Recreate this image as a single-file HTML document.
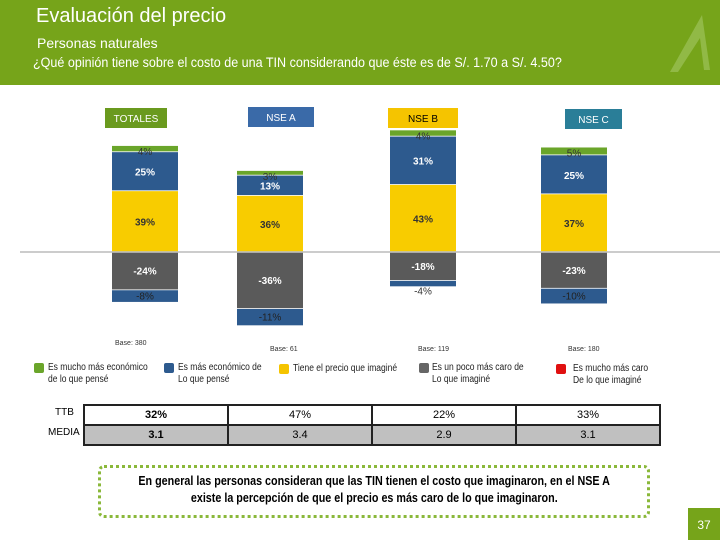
<!DOCTYPE html>
<html><head><meta charset="utf-8"><style>
body{margin:0;width:720px;height:540px;overflow:hidden;background:#fff;font-family:"Liberation Sans",sans-serif;position:relative}
.a{position:absolute}
.hdr{left:0;top:0;width:720px;height:85px;background:#76a41a}
.t{color:#fff}
.lab{font-size:10px;color:#222;transform:scaleX(.85);transform-origin:left}
.ls{width:10px;height:10px;border-radius:2px}
table{border-collapse:collapse}
td{border:2px solid #222;text-align:center;font-size:11px;height:18px;padding:0}
.base{font-size:7px;color:#333}
</style></head><body>
<div class="a hdr"></div>
<div class="a t" style="left:36px;top:5px;font-size:20px">Evaluación del precio</div>
<div class="a t" style="left:37px;top:35px;font-size:14px">Personas naturales</div>
<div class="a t" style="left:33px;top:55px;font-size:13.5px;transform:scaleX(.93);transform-origin:left;white-space:nowrap">¿Qué opinión tiene sobre el costo de una TIN considerando que éste es de S/. 1.70 a S/. 4.50?</div>
<svg class="a" style="left:660px;top:10px" width="60" height="70"><path d="M10 62 L42 5 L50 60 L44 60 L40 28 L18 62Z" fill="#9cc25a" opacity=".7"/></svg>

<svg class="a" id="chart" style="left:0;top:90px" width="720" height="250"></svg>

<div class="a base" style="left:115px;top:340px">Base: 380</div>
<div class="a base" style="left:270px;top:346px">Base: 61</div>
<div class="a base" style="left:418px;top:346px">Base: 119</div>
<div class="a base" style="left:568px;top:346px">Base: 180</div>

<div class="a ls" style="left:34px;top:363px;background:#6aa52a"></div>
<div class="a lab" style="left:48px;top:362px;line-height:12px">Es mucho más económico<br>de lo que pensé</div>
<div class="a ls" style="left:164px;top:363px;background:#2d5a8e"></div>
<div class="a lab" style="left:178px;top:362px;line-height:12px">Es más económico de<br>Lo que pensé</div>
<div class="a ls" style="left:279px;top:364px;background:#f5c400"></div>
<div class="a lab" style="left:293px;top:363px">Tiene el precio que imaginé</div>
<div class="a ls" style="left:419px;top:363px;background:#666"></div>
<div class="a lab" style="left:432px;top:362px;line-height:12px">Es un poco más caro de<br>Lo que imaginé</div>
<div class="a ls" style="left:556px;top:364px;background:#e01010"></div>
<div class="a lab" style="left:573px;top:363px;line-height:12px">Es mucho más caro<br>De lo que imaginé</div>

<div class="a" style="left:55px;top:407px;font-size:10px">TTB</div>
<div class="a" style="left:48px;top:427px;font-size:10px">MEDIA</div>
<table class="a" style="left:83px;top:404px;width:578px">
<tr><td style="font-weight:bold;width:25%">32%</td><td>47%</td><td>22%</td><td>33%</td></tr>
<tr style="background:#c0c0c0"><td style="font-weight:bold">3.1</td><td>3.4</td><td>2.9</td><td>3.1</td></tr>
</table>

<div class="a" style="left:98px;top:465px;width:552px;height:53px;border:3px dotted #8ab83a;border-radius:6px;box-sizing:border-box"></div>
<div class="a" style="left:98px;top:473px;width:552px;text-align:center;font-size:12.5px;font-weight:bold;line-height:17px;white-space:nowrap"><div style="display:inline-block;transform:scaleX(.86)">En general las personas consideran que las TIN tienen el costo que imaginaron, en el NSE A</div><br><div style="display:inline-block;transform:scaleX(.86)">existe la percepción de que el precio es más caro de lo que imaginaron.</div></div>
<div class="a" style="left:688px;top:508px;width:32px;height:32px;background:#76a41a;color:#fff;font-size:12px;text-align:center;line-height:34px">37</div>

<script>
const groups=['TOTALES','NSE A','NSE B','NSE C'];
const muchoEcon=[4,3,4,5];
const econ=[25,13,31,25];
const precio=[39,36,43,37];
const pocoCaro=[-24,-36,-18,-23];
const muchoCaro=[-8,-11,-4,-10];
const svg=document.getElementById('chart');
const NS='http://www.w3.org/2000/svg';
const baseY=162, k=1.56, barW=66;
const yS=v=>baseY-v*k;
function mk(t,a){const e=document.createElementNS(NS,t);for(const n in a)e.setAttribute(n,a[n]);svg.appendChild(e);return e;}
const ax=mk('line',{x1:20,x2:720,y1:baseY,y2:baseY,stroke:'#999','stroke-width':1});


const hdrCol=['#6a9a1e','#3a6aa8','#f5c400','#2a7e98'];
const hdrTxt=['#fff','#fff','#000','#fff'];
groups.forEach((g,i)=>{
  const bx=[145,270,423,574][i]-barW/2;
  const hx=[[107,58],[250,62],[390,66],[567,53]][i];
  const hy=[18,17,18,19][i];
  const hr=mk('rect',{x:hx[0]-2,y:hy,width:hx[1]+4,height:20,fill:hdrCol[i]});
  
  
  const ht=mk('text',{x:hx[0]+hx[1]/2,y:hy+14,'text-anchor':'middle','font-size':10,fill:hdrTxt[i]});
  ht.textContent=g;
  
  
  let acc=0;
  const order=[[precio[i],'#f8cc00','#333'],[econ[i],'#2d5a8e','#fff'],[muchoEcon[i],'#6aa52a','#333']];
  order.forEach((s,j)=>{
    const y0=yS(acc), y1=yS(acc+s[0]);
    const r=mk('rect',{x:bx,y:y1,width:barW,height:y0-y1-0.8,fill:s[1]});
    
    
    const t=mk('text',{x:bx+barW/2,y:(j==2?y1+9:(y0+y1)/2+4),'text-anchor':'middle','font-size':10,'font-weight':j==2?'normal':'bold',fill:s[2]});
    t.textContent=s[0]+'%';
    
    
    acc+=s[0];
  });
  acc=0;
  [[pocoCaro[i],'#5a5a5a','#fff'],[muchoCaro[i],'#2d5a8e','#222']].forEach((s,j)=>{
    const y0=yS(acc), y1=yS(acc+s[0]);
    const r=mk('rect',{x:bx,y:y0+0.8,width:barW,height:y1-y0-0.8,fill:s[1]});
    
    
    const t=mk('text',{x:bx+barW/2,y:(Math.abs(s[0])<6?y1+8:(y0+y1)/2+4),'text-anchor':'middle','font-size':10,'font-weight':j==0?'bold':'normal',fill:Math.abs(s[0])<6?'#333':s[2]});
    t.textContent=s[0]+'%';
    
    
    acc+=s[0];
  });
});
</script>
</body></html>
